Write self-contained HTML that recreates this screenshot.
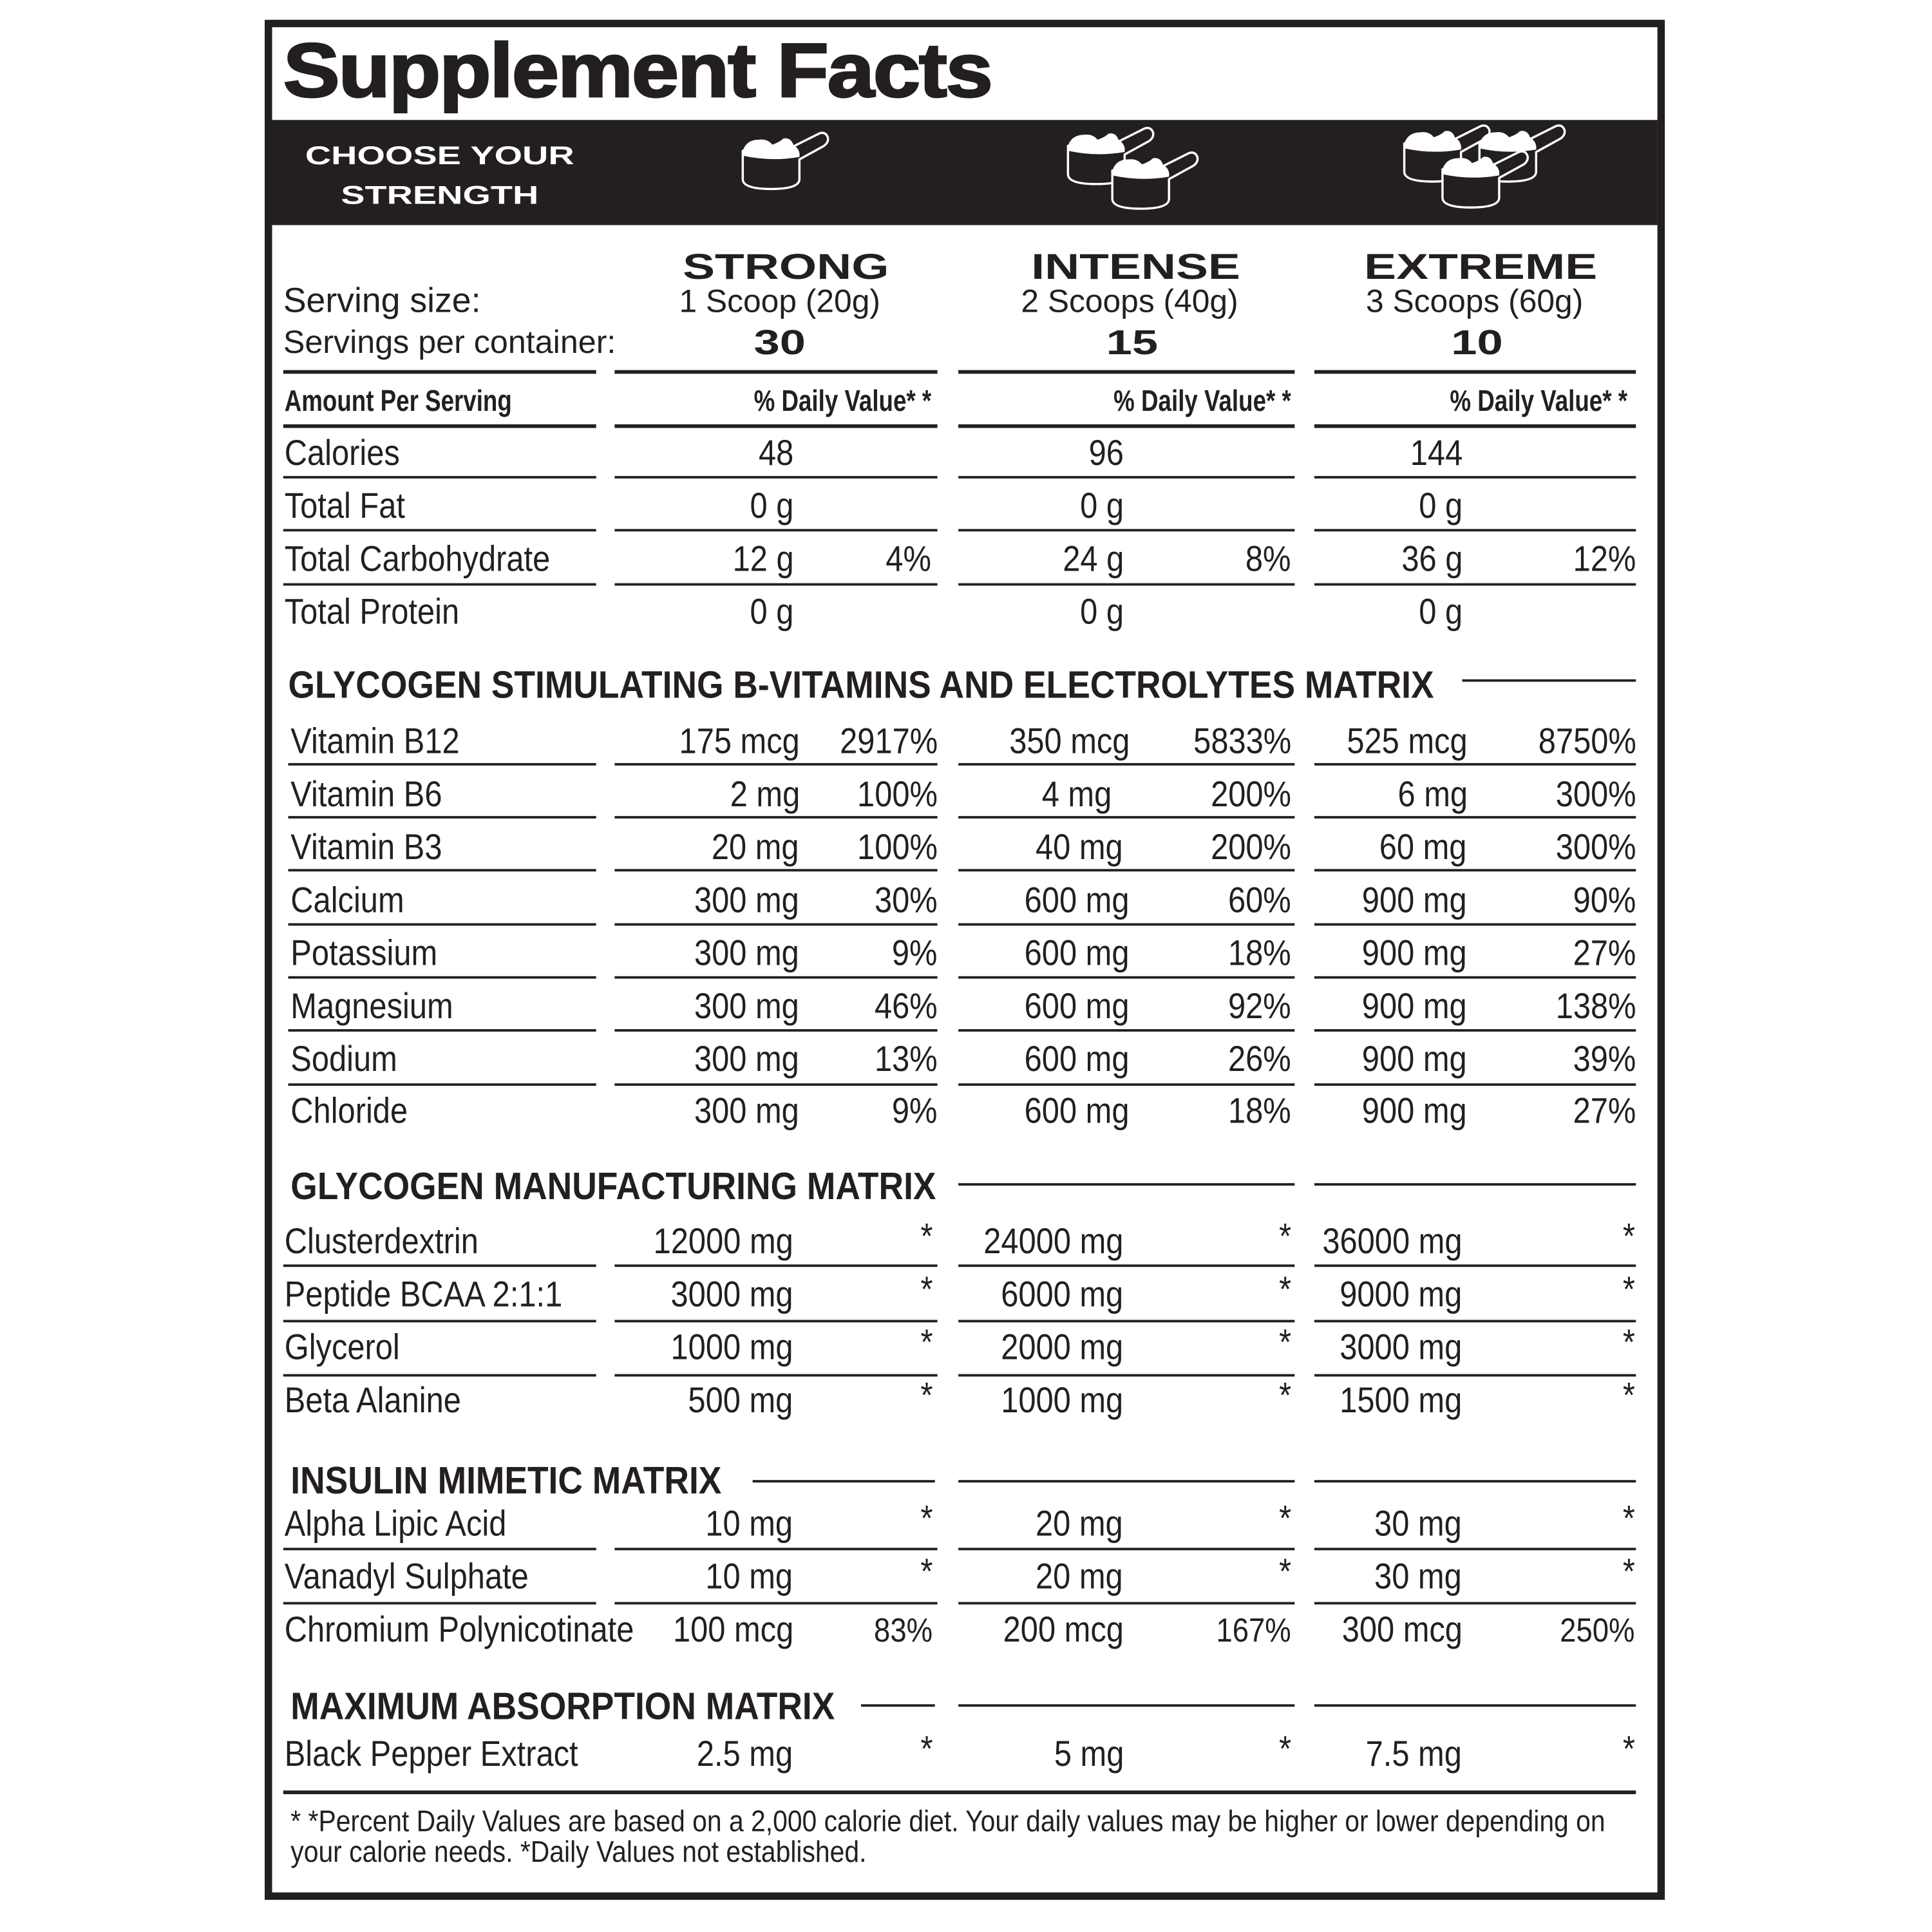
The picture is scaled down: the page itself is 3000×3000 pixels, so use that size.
<!DOCTYPE html>
<html><head><meta charset="utf-8">
<style>
html,body{margin:0;padding:0;background:#fff}
body{width:3000px;height:3000px;overflow:hidden;position:relative}
#c{position:absolute;left:0;top:0;width:1562px;height:1562px;transform:scale(1.92061);transform-origin:0 0}
#w{position:absolute;left:0;top:0;width:1562px;height:1562px;transform:scale(0.996);transform-origin:230px 100px}
.t{position:absolute;white-space:nowrap;line-height:1;font-family:"Liberation Sans",sans-serif;color:#231f20}
.l{transform-origin:0 0}
.r{transform-origin:100% 0}
.ce{transform-origin:50% 0}
.n{font-size:29px;transform:scaleX(.88)}
.n.r{transform:scaleX(.88)}
.h{font-size:31px;font-weight:bold;transform:scaleX(.9)}
.s{font-size:24px;font-weight:bold;transform:scaleX(.8)}
.x{font-weight:bold;font-size:29px;transform:scaleX(1.35)}
.ln{position:absolute;background:#231f20;height:1.6px}
.lt{position:absolute;background:#231f20;height:3px}
</style></head><body><div id="c">
<div style="position:absolute;left:213.5px;top:16px;width:1120px;height:1508px;border:6.5px solid #231f20"></div>
<div style="position:absolute;left:220px;top:97px;width:1120px;height:85px;background:#231f20"></div>
<div id="w">
<div class="t l" style="left:229px;top:27px;font-size:62px;font-weight:bold;letter-spacing:-1px;-webkit-text-stroke:1.5px #231f20;transform:scaleX(1.11)">Supplement Facts</div>
<div class="t ce" style="left:247px;width:218px;text-align:center;top:116px;font-size:21px;font-weight:bold;color:#fff;transform:scaleX(1.39)">CHOOSE YOUR</div>
<div class="t ce" style="left:247px;width:218px;text-align:center;top:148px;font-size:21px;font-weight:bold;color:#fff;transform:scaleX(1.39)">STRENGTH</div>
<svg style="position:absolute;left:0;top:0" width="1562" height="200">
<defs>
<g id="sc">
<path d="M0,12 L0,35 Q0,43 23,43 Q46,43 46,35 L46,19 L66,8 Q70,5 69,1 Q67,-4 62,-2 L40,9 Z" fill="#231f20" stroke="#fff" stroke-width="1.8" stroke-linejoin="round"/>
<path d="M0,12 Q3,3 13,3 Q20,2 24,7 Q30,5 33,2 Q39,1 41,7 Q47,11 46,17 Q23,21 0,16 Z" fill="#fff"/>
</g>
</defs>
<use href="#sc" x="602" y="110"/>
<use href="#sc" x="866" y="106"/>
<use href="#sc" x="902" y="126"/>
<use href="#sc" x="1139" y="104"/>
<use href="#sc" x="1200" y="104"/>
<use href="#sc" x="1170" y="125"/>
</svg>
<div class="t x ce" style="left:537px;width:200px;text-align:center;top:203px">STRONG</div>
<div class="t x ce" style="left:821px;width:200px;text-align:center;top:203px">INTENSE</div>
<div class="t x ce" style="left:1101px;width:200px;text-align:center;top:203px">EXTREME</div>
<div class="t l" style="left:229px;top:230px;font-size:28px;transform:scaleX(1.0)">Serving size:</div>
<div class="t l" style="left:229px;top:264px;font-size:26px;transform:scaleX(1.01)">Servings per container:</div>
<div class="t ce" style="left:532px;width:200px;text-align:center;top:231px;font-size:26px;transform:scaleX(1.0)">1 Scoop (20g)</div>
<div class="t ce" style="left:816px;width:200px;text-align:center;top:231px;font-size:26px;transform:scaleX(1.0)">2 Scoops (40g)</div>
<div class="t ce" style="left:1096px;width:200px;text-align:center;top:231px;font-size:26px;transform:scaleX(1.0)">3 Scoops (60g)</div>
<div class="t x ce" style="left:532px;width:200px;text-align:center;top:264px;font-size:28px">30</div>
<div class="t x ce" style="left:818px;width:200px;text-align:center;top:264px;font-size:28px">15</div>
<div class="t x ce" style="left:1098px;width:200px;text-align:center;top:264px;font-size:28px">10</div>

<div class="lt" style="top:300px;left:229px;width:254px"></div><div class="lt" style="top:300px;left:498px;width:262px"></div><div class="lt" style="top:300px;left:777px;width:273px"></div><div class="lt" style="top:300px;left:1066px;width:261px"></div>
<div class="t s l" style="left:230px;top:314px">Amount Per Serving</div>
<div class="t s r" style="right:807px;top:314px">% Daily Value* *</div>
<div class="t s r" style="right:515px;top:314px">% Daily Value* *</div>
<div class="t s r" style="right:242px;top:314px">% Daily Value* *</div>
<div class="lt" style="top:344px;left:229px;width:254px"></div><div class="lt" style="top:344px;left:498px;width:262px"></div><div class="lt" style="top:344px;left:777px;width:273px"></div><div class="lt" style="top:344px;left:1066px;width:261px"></div>

<div class="t n l" style="left:230px;top:354px">Calories</div>
<div class="t n r" style="right:919px;top:354px">48</div>
<div class="t n r" style="right:651px;top:354px">96</div>
<div class="t n r" style="right:376px;top:354px">144</div>
<div class="ln" style="top:386px;left:229px;width:254px"></div><div class="ln" style="top:386px;left:498px;width:262px"></div><div class="ln" style="top:386px;left:777px;width:273px"></div><div class="ln" style="top:386px;left:1066px;width:261px"></div>
<div class="t n l" style="left:230px;top:397px">Total Fat</div>
<div class="t n r" style="right:919px;top:397px">0 g</div>
<div class="t n r" style="right:651px;top:397px">0 g</div>
<div class="t n r" style="right:376px;top:397px">0 g</div>
<div class="ln" style="top:429px;left:229px;width:254px"></div><div class="ln" style="top:429px;left:498px;width:262px"></div><div class="ln" style="top:429px;left:777px;width:273px"></div><div class="ln" style="top:429px;left:1066px;width:261px"></div>
<div class="t n l" style="left:230px;top:440px">Total Carbohydrate</div>
<div class="t n r" style="right:919px;top:440px">12 g</div><div class="t n r" style="right:807px;top:440px">4%</div>
<div class="t n r" style="right:651px;top:440px">24 g</div><div class="t n r" style="right:515px;top:440px">8%</div>
<div class="t n r" style="right:376px;top:440px">36 g</div><div class="t n r" style="right:235px;top:440px">12%</div>
<div class="ln" style="top:473px;left:229px;width:254px"></div><div class="ln" style="top:473px;left:498px;width:262px"></div><div class="ln" style="top:473px;left:777px;width:273px"></div><div class="ln" style="top:473px;left:1066px;width:261px"></div>
<div class="t n l" style="left:230px;top:483px">Total Protein</div>
<div class="t n r" style="right:919px;top:483px">0 g</div>
<div class="t n r" style="right:651px;top:483px">0 g</div>
<div class="t n r" style="right:376px;top:483px">0 g</div>

<div class="t h l" style="left:233px;top:540px">GLYCOGEN STIMULATING B-VITAMINS AND ELECTROLYTES MATRIX</div>
<div class="ln" style="top:551px;left:1186px;width:141px;height:2px"></div>

<div class="t n l" style="left:235px;top:588px">Vitamin B12</div>
<div class="t n r" style="right:914px;top:588px">175 mcg</div><div class="t n r" style="right:802px;top:588px">2917%</div>
<div class="t n r" style="right:646px;top:588px">350 mcg</div><div class="t n r" style="right:515px;top:588px">5833%</div>
<div class="t n r" style="right:372px;top:588px">525 mcg</div><div class="t n r" style="right:235px;top:588px">8750%</div>
<div class="ln" style="top:619px;left:233px;width:250px"></div><div class="ln" style="top:619px;left:498px;width:262px"></div><div class="ln" style="top:619px;left:777px;width:273px"></div><div class="ln" style="top:619px;left:1066px;width:261px"></div>

<div class="t n l" style="left:235px;top:631px">Vitamin B6</div>
<div class="t n r" style="right:914px;top:631px">2 mg</div><div class="t n r" style="right:802px;top:631px">100%</div>
<div class="t n r" style="right:661px;top:631px">4 mg</div><div class="t n r" style="right:515px;top:631px">200%</div>
<div class="t n r" style="right:372px;top:631px">6 mg</div><div class="t n r" style="right:235px;top:631px">300%</div>
<div class="ln" style="top:662px;left:233px;width:250px"></div><div class="ln" style="top:662px;left:498px;width:262px"></div><div class="ln" style="top:662px;left:777px;width:273px"></div><div class="ln" style="top:662px;left:1066px;width:261px"></div>

<div class="t n l" style="left:235px;top:674px">Vitamin B3</div>
<div class="t n r" style="right:914px;top:674px">20 mg</div><div class="t n r" style="right:802px;top:674px">100%</div>
<div class="t n r" style="right:651px;top:674px">40 mg</div><div class="t n r" style="right:515px;top:674px">200%</div>
<div class="t n r" style="right:372px;top:674px">60 mg</div><div class="t n r" style="right:235px;top:674px">300%</div>
<div class="ln" style="top:705px;left:233px;width:250px"></div><div class="ln" style="top:705px;left:498px;width:262px"></div><div class="ln" style="top:705px;left:777px;width:273px"></div><div class="ln" style="top:705px;left:1066px;width:261px"></div>

<div class="t n l" style="left:235px;top:717px">Calcium</div>
<div class="t n r" style="right:914px;top:717px">300 mg</div><div class="t n r" style="right:802px;top:717px">30%</div>
<div class="t n r" style="right:646px;top:717px">600 mg</div><div class="t n r" style="right:515px;top:717px">60%</div>
<div class="t n r" style="right:372px;top:717px">900 mg</div><div class="t n r" style="right:235px;top:717px">90%</div>
<div class="ln" style="top:749px;left:233px;width:250px"></div><div class="ln" style="top:749px;left:498px;width:262px"></div><div class="ln" style="top:749px;left:777px;width:273px"></div><div class="ln" style="top:749px;left:1066px;width:261px"></div>

<div class="t n l" style="left:235px;top:760px">Potassium</div>
<div class="t n r" style="right:914px;top:760px">300 mg</div><div class="t n r" style="right:802px;top:760px">9%</div>
<div class="t n r" style="right:646px;top:760px">600 mg</div><div class="t n r" style="right:515px;top:760px">18%</div>
<div class="t n r" style="right:372px;top:760px">900 mg</div><div class="t n r" style="right:235px;top:760px">27%</div>
<div class="ln" style="top:792px;left:233px;width:250px"></div><div class="ln" style="top:792px;left:498px;width:262px"></div><div class="ln" style="top:792px;left:777px;width:273px"></div><div class="ln" style="top:792px;left:1066px;width:261px"></div>

<div class="t n l" style="left:235px;top:803px">Magnesium</div>
<div class="t n r" style="right:914px;top:803px">300 mg</div><div class="t n r" style="right:802px;top:803px">46%</div>
<div class="t n r" style="right:646px;top:803px">600 mg</div><div class="t n r" style="right:515px;top:803px">92%</div>
<div class="t n r" style="right:372px;top:803px">900 mg</div><div class="t n r" style="right:235px;top:803px">138%</div>
<div class="ln" style="top:835px;left:233px;width:250px"></div><div class="ln" style="top:835px;left:498px;width:262px"></div><div class="ln" style="top:835px;left:777px;width:273px"></div><div class="ln" style="top:835px;left:1066px;width:261px"></div>

<div class="t n l" style="left:235px;top:846px">Sodium</div>
<div class="t n r" style="right:914px;top:846px">300 mg</div><div class="t n r" style="right:802px;top:846px">13%</div>
<div class="t n r" style="right:646px;top:846px">600 mg</div><div class="t n r" style="right:515px;top:846px">26%</div>
<div class="t n r" style="right:372px;top:846px">900 mg</div><div class="t n r" style="right:235px;top:846px">39%</div>
<div class="ln" style="top:879px;left:233px;width:250px"></div><div class="ln" style="top:879px;left:498px;width:262px"></div><div class="ln" style="top:879px;left:777px;width:273px"></div><div class="ln" style="top:879px;left:1066px;width:261px"></div>

<div class="t n l" style="left:235px;top:888px">Chloride</div>
<div class="t n r" style="right:914px;top:888px">300 mg</div><div class="t n r" style="right:802px;top:888px">9%</div>
<div class="t n r" style="right:646px;top:888px">600 mg</div><div class="t n r" style="right:515px;top:888px">18%</div>
<div class="t n r" style="right:372px;top:888px">900 mg</div><div class="t n r" style="right:235px;top:888px">27%</div>

<div class="t h l" style="left:235px;top:947px">GLYCOGEN MANUFACTURING MATRIX</div>
<div class="ln" style="top:960px;left:777px;width:273px;height:2px"></div><div class="ln" style="top:960px;left:1066px;width:261px;height:2px"></div>

<div class="t n l" style="left:230px;top:994px">Clusterdextrin</div>
<div class="t n r" style="right:919px;top:994px">12000 mg</div><div class="t n r" style="right:806px;top:990px">*</div>
<div class="t n r" style="right:651px;top:994px">24000 mg</div><div class="t n r" style="right:515px;top:990px">*</div>
<div class="t n r" style="right:376px;top:994px">36000 mg</div><div class="t n r" style="right:236px;top:990px">*</div>
<div class="ln" style="top:1026px;left:229px;width:254px"></div><div class="ln" style="top:1026px;left:498px;width:262px"></div><div class="ln" style="top:1026px;left:777px;width:273px"></div><div class="ln" style="top:1026px;left:1066px;width:261px"></div>

<div class="t n l" style="left:230px;top:1037px">Peptide BCAA 2:1:1</div>
<div class="t n r" style="right:919px;top:1037px">3000 mg</div><div class="t n r" style="right:806px;top:1033px">*</div>
<div class="t n r" style="right:651px;top:1037px">6000 mg</div><div class="t n r" style="right:515px;top:1033px">*</div>
<div class="t n r" style="right:376px;top:1037px">9000 mg</div><div class="t n r" style="right:236px;top:1033px">*</div>
<div class="ln" style="top:1071px;left:229px;width:254px"></div><div class="ln" style="top:1071px;left:498px;width:262px"></div><div class="ln" style="top:1071px;left:777px;width:273px"></div><div class="ln" style="top:1071px;left:1066px;width:261px"></div>

<div class="t n l" style="left:230px;top:1080px">Glycerol</div>
<div class="t n r" style="right:919px;top:1080px">1000 mg</div><div class="t n r" style="right:806px;top:1076px">*</div>
<div class="t n r" style="right:651px;top:1080px">2000 mg</div><div class="t n r" style="right:515px;top:1076px">*</div>
<div class="t n r" style="right:376px;top:1080px">3000 mg</div><div class="t n r" style="right:236px;top:1076px">*</div>
<div class="ln" style="top:1115px;left:229px;width:254px"></div><div class="ln" style="top:1115px;left:498px;width:262px"></div><div class="ln" style="top:1115px;left:777px;width:273px"></div><div class="ln" style="top:1115px;left:1066px;width:261px"></div>

<div class="t n l" style="left:230px;top:1123px">Beta Alanine</div>
<div class="t n r" style="right:919px;top:1123px">500 mg</div><div class="t n r" style="right:806px;top:1119px">*</div>
<div class="t n r" style="right:651px;top:1123px">1000 mg</div><div class="t n r" style="right:515px;top:1119px">*</div>
<div class="t n r" style="right:376px;top:1123px">1500 mg</div><div class="t n r" style="right:236px;top:1119px">*</div>

<div class="t h l" style="left:235px;top:1186px">INSULIN MIMETIC MATRIX</div>
<div class="ln" style="top:1201px;left:610px;width:148px;height:2px"></div><div class="ln" style="top:1201px;left:777px;width:273px;height:2px"></div><div class="ln" style="top:1201px;left:1066px;width:261px;height:2px"></div>

<div class="t n l" style="left:230px;top:1223px">Alpha Lipic Acid</div>
<div class="t n r" style="right:919px;top:1223px">10 mg</div><div class="t n r" style="right:806px;top:1219px">*</div>
<div class="t n r" style="right:651px;top:1223px">20 mg</div><div class="t n r" style="right:515px;top:1219px">*</div>
<div class="t n r" style="right:376px;top:1223px">30 mg</div><div class="t n r" style="right:236px;top:1219px">*</div>
<div class="ln" style="top:1256px;left:229px;width:254px"></div><div class="ln" style="top:1256px;left:498px;width:262px"></div><div class="ln" style="top:1256px;left:777px;width:273px"></div><div class="ln" style="top:1256px;left:1066px;width:261px"></div>

<div class="t n l" style="left:230px;top:1266px">Vanadyl Sulphate</div>
<div class="t n r" style="right:919px;top:1266px">10 mg</div><div class="t n r" style="right:806px;top:1262px">*</div>
<div class="t n r" style="right:651px;top:1266px">20 mg</div><div class="t n r" style="right:515px;top:1262px">*</div>
<div class="t n r" style="right:376px;top:1266px">30 mg</div><div class="t n r" style="right:236px;top:1262px">*</div>
<div class="ln" style="top:1300px;left:229px;width:254px"></div><div class="ln" style="top:1300px;left:498px;width:262px"></div><div class="ln" style="top:1300px;left:777px;width:273px"></div><div class="ln" style="top:1300px;left:1066px;width:261px"></div>

<div class="t n l" style="left:230px;top:1309px">Chromium Polynicotinate</div>
<div class="t n r" style="right:919px;top:1309px">100 mcg</div><div class="t n r" style="right:806px;top:1310px;font-size:27px">83%</div>
<div class="t n r" style="right:651px;top:1309px">200 mcg</div><div class="t n r" style="right:515px;top:1310px;font-size:27px">167%</div>
<div class="t n r" style="right:376px;top:1309px">300 mcg</div><div class="t n r" style="right:236px;top:1310px;font-size:27px">250%</div>

<div class="t h l" style="left:235px;top:1369px">MAXIMUM ABSORPTION MATRIX</div>
<div class="ln" style="top:1383px;left:698px;width:60px;height:2px"></div><div class="ln" style="top:1383px;left:777px;width:273px;height:2px"></div><div class="ln" style="top:1383px;left:1066px;width:261px;height:2px"></div>

<div class="t n l" style="left:230px;top:1410px">Black Pepper Extract</div>
<div class="t n r" style="right:919px;top:1410px">2.5 mg</div><div class="t n r" style="right:806px;top:1406px">*</div>
<div class="t n r" style="right:651px;top:1410px">5 mg</div><div class="t n r" style="right:515px;top:1406px">*</div>
<div class="t n r" style="right:376px;top:1410px">7.5 mg</div><div class="t n r" style="right:236px;top:1406px">*</div>
<div class="lt" style="top:1453px;left:229px;width:1098px;height:2.5px"></div>

<div class="t l" style="left:235px;top:1467px;font-size:24px;transform:scaleX(.89)">* *Percent Daily Values are based on a 2,000 calorie diet. Your daily values may be higher or lower depending on</div>
<div class="t l" style="left:235px;top:1492px;font-size:24px;transform:scaleX(.89)">your calorie needs. *Daily Values not established.</div>
</div>
</div></body></html>
